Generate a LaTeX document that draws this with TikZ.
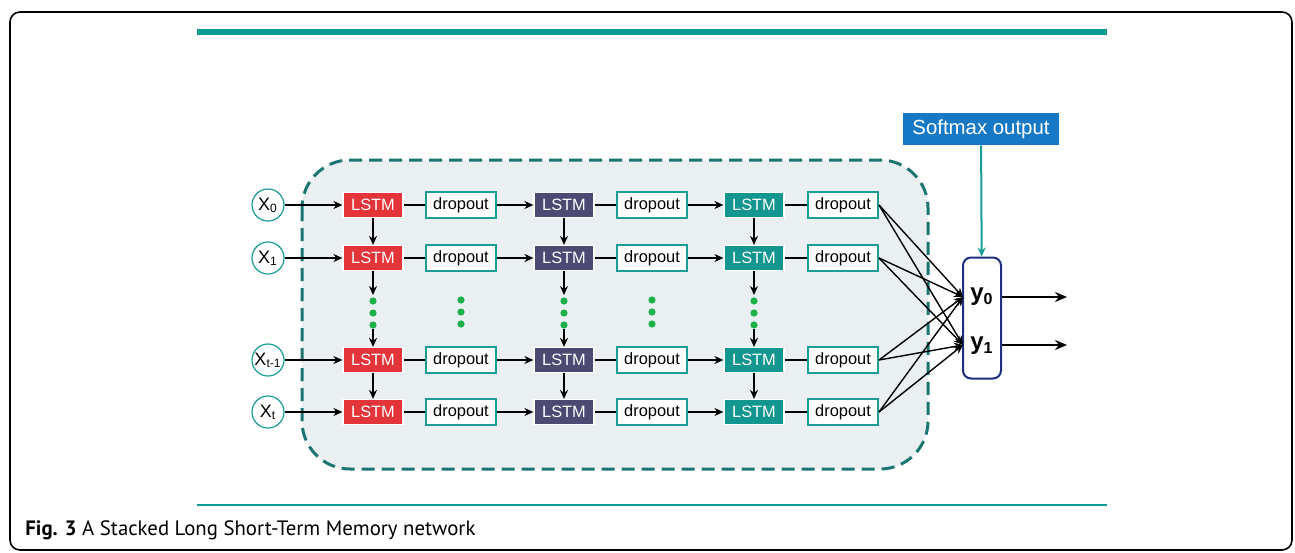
\documentclass[tikz,border=0pt]{standalone}
\usepackage{fontspec}
\setmainfont{Liberation Sans}
\newfontfamily\capfont{PT Sans}
\usetikzlibrary{arrows.meta,positioning,calc}
\definecolor{barteal}{HTML}{0E9A94}
\definecolor{boxteal}{HTML}{1A9C97}
\definecolor{lstmred}{HTML}{E3343A}
\definecolor{lstmpurple}{HTML}{4B4A73}
\definecolor{lstmteal}{HTML}{12968F}
\definecolor{dashteal}{HTML}{1B7573}
\definecolor{regionbg}{HTML}{EAF0F1}
\definecolor{dotgreen}{HTML}{1DB14A}
\definecolor{outnavy}{HTML}{1F2F7F}
\definecolor{softblue}{HTML}{1779C5}

\begin{document}
\begin{tikzpicture}[x=0.5pt,y=-0.5pt,>={Stealth[length=4.5pt,width=4pt]},
  lstm/.style={draw=white,line width=0.6pt,minimum width=30pt,minimum height=12.5pt,inner sep=0pt,text=white,font=\fontsize{8.2}{9}\selectfont},
  drop/.style={draw=boxteal,fill=white,line width=1pt,minimum width=35pt,minimum height=13pt,inner sep=0pt,font=\fontsize{8.2}{9}\selectfont},
  xin/.style={circle,draw=boxteal,fill=white,line width=0.6pt,minimum size=16pt,inner sep=0pt,font=\fontsize{9}{10}\selectfont},
  gdot/.style={circle,fill=dotgreen,inner sep=0pt,minimum size=3.6pt},
  arr/.style={->,line width=0.7pt},
  ]
  \useasboundingbox (0,0) rectangle (1295,552);
  % frame, bars and caption
  \draw[line width=0.8pt,rounded corners=5pt] (10,12) rectangle (1292,550);
  \fill[barteal] (197,29) rectangle (1107,35);
  \draw[barteal,line width=0.8pt] (197,505) -- (1107,505);
  \node[anchor=west,inner sep=0pt,font=\capfont\fontsize{10.4}{12}\selectfont] (cap) at (25,530)
    {\textbf{Fig. 3} A Stacked Long Short-Term Memory network};
  % dashed region
  \draw[dashteal,line width=1.5pt,dash pattern=on 6.5pt off 3.5pt,fill=regionbg,rounded corners=24pt]
    (302,160) rectangle (928,469);
  % output side
  \node[draw=outnavy,fill=white,line width=1pt,rounded corners=4pt,minimum width=19pt,minimum height=60.5pt] (out) at (982,318) {};
  \node[font=\bfseries\fontsize{12}{13}\selectfont] (y0) at (982,297) {y\textsubscript{0}};
  \node[font=\bfseries\fontsize{12}{13}\selectfont] (y1) at (982,346) {y\textsubscript{1}};
  \coordinate (in0) at (963,297);
  \coordinate (in1) at (963,345);
  \coordinate (o0) at (1067,297);
  \coordinate (o1) at (1067,345);
  \draw[-{Stealth[length=6pt,width=5pt]},line width=1.4pt] (out.east |- o0) -- (o0);
  \draw[-{Stealth[length=6pt,width=5pt]},line width=1.4pt] (out.east |- o1) -- (o1);
  \node[fill=softblue,text=white,minimum width=78pt,minimum height=16pt,inner sep=0pt,font=\fontsize{10.2}{12}\selectfont] (soft) at (981,129) {Softmax output};
  \draw[->,boxteal,line width=1pt] (soft) -- (out);
  % rows
  \foreach \r/\y/\s in {a/205/0,b/258/1,c/360/t-1,d/412/t} {
    \node[xin] (x\r) at (268,\y) {X\textsubscript{\s}};
    \node[lstm,fill=lstmred] (l1\r) at (373,\y) {LSTM};
    \node[drop] (d1\r) at (461,\y) {dropout};
    \node[lstm,fill=lstmpurple] (l2\r) at (564,\y) {LSTM};
    \node[drop] (d2\r) at (652,\y) {dropout};
    \node[lstm,fill=lstmteal] (l3\r) at (754,\y) {LSTM};
    \node[drop] (d3\r) at (843,\y) {dropout};
    \draw[arr] (x\r) -- (l1\r);
    \draw[line width=0.7pt] (l1\r) -- (d1\r);
    \draw[arr] (d1\r) -- (l2\r);
    \draw[line width=0.7pt] (l2\r) -- (d2\r);
    \draw[arr] (d2\r) -- (l3\r);
    \draw[line width=0.7pt] (l3\r) -- (d3\r);
    \draw[arr] (d3\r.east) -- (in0);
    \draw[arr] (d3\r.east) -- (in1);
  }
  % vertical links and dots
  \foreach \c/\x in {1/373,2/564,3/754} {
    \node[gdot] (g\c a) at (\x,301) {};
    \node[gdot] (g\c b) at (\x,313) {};
    \node[gdot] (g\c c) at (\x,325) {};
    \draw[arr] (l\c a) -- (l\c b);
    \draw[arr,shorten >=1pt] (l\c b) -- (g\c a);
    \draw[arr] (g\c c) -- (l\c c);
    \draw[arr] (l\c c) -- (l\c d);
  }
  \foreach \c/\x in {1/461,2/652} {
    \node[gdot] (h\c a) at (\x,300) {};
    \node[gdot] (h\c b) at (\x,312) {};
    \node[gdot] (h\c c) at (\x,324) {};
  }
\end{tikzpicture}
\end{document}
